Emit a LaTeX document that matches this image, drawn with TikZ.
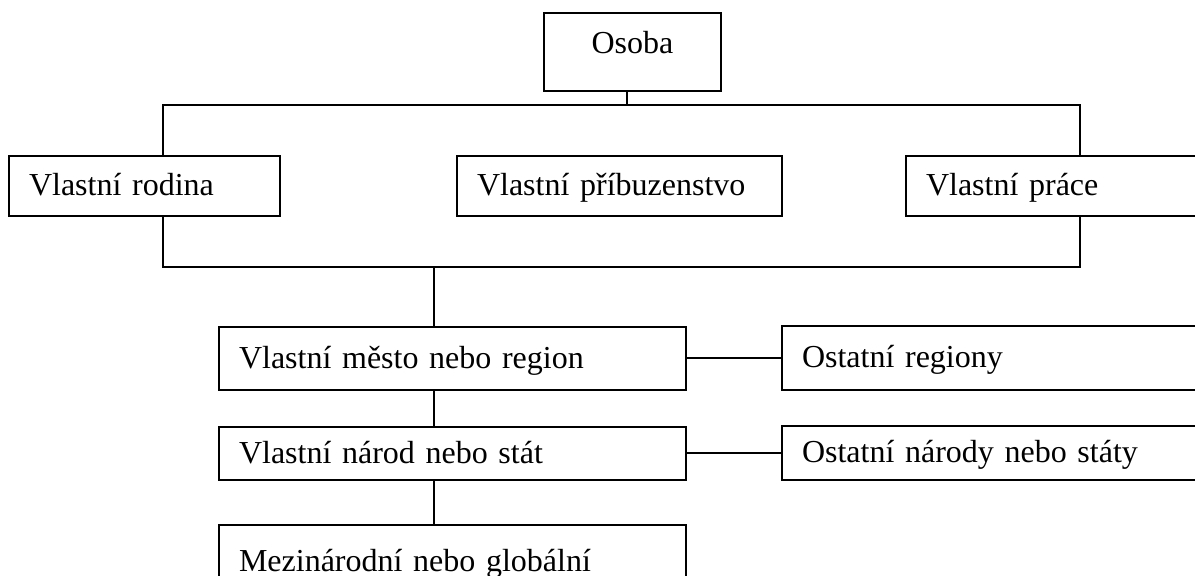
\documentclass[tikz,border=0pt]{standalone}
\usepackage{fontspec}
\setmainfont{Liberation Serif}
\usetikzlibrary{calc}

\tikzset{
  box/.style={draw, rectangle, line width=1pt, outer sep=0pt, anchor=north west,
    inner xsep=10pt, align=left, text height=12pt, text depth=2pt,
    font=\fontsize{16pt}{19pt}\selectfont},
  link/.style={line width=1pt}
}

\begin{document}
\begin{tikzpicture}[x=0.5pt, y=-0.5pt]

    % 1. Frame of the picture (pixel coordinates, y downwards)
    \useasboundingbox (0,0) rectangle (1195,576);
    \clip (0,0) rectangle (1195,576);

    % 2. Top box
    \node[box, align=center, text width=68.5pt, minimum height=39pt,
          text height=11pt, text depth=9pt] (osoba) at (544,13) {Osoba};

    % 3. Second row
    \node[box, text width=115.5pt, minimum height=30pt] (rodina) at (9,156) {Vlastní rodina};
    \node[box, text width=142.5pt, minimum height=30pt] (pribuz) at (457,156) {Vlastní příbuzenstvo};
    \node[box, text width=134.5pt, minimum height=30pt] (prace) at (906,156) {Vlastní práce};

    % 4. Column of own levels
    \node[box, text width=213.5pt, minimum height=31.5pt] (mesto) at (219,327) {Vlastní město nebo region};
    \node[box, text width=213.5pt, minimum height=26.5pt] (narod) at (219,427) {Vlastní národ nebo stát};
    \node[box, text width=213.5pt, minimum height=37pt] (global) at (219,525) {Mezinárodní nebo globální};

    % 5. Other levels on the right
    \node[box, text width=196.5pt, minimum height=32pt] (ostreg) at (782,326) {Ostatní regiony};
    \node[box, text width=196.5pt, minimum height=27pt] (ostnar) at (782,426) {Ostatní národy nebo státy};

    % 6. Bus points
    \coordinate (top) at (627,105);
    \coordinate (busA) at (163,105);
    \coordinate (busB) at (1080,105);
    \coordinate (busC) at (163,267);
    \coordinate (busD) at (1080,267);
    \coordinate (stem) at (434,267);

    % 7. Connectors
    \draw[link] (top |- osoba.south) -- (top);
    \draw[link] (busA |- rodina.north) -- (busA) -- (busB) -- (busB |- prace.north);
    \draw[link] (busC |- rodina.south) -- (busC) -- (busD) -- (busD |- prace.south);
    \draw[link] (stem) -- (stem |- mesto.north);
    \draw[link] (stem |- mesto.south) -- (stem |- narod.north);
    \draw[link] (stem |- narod.south) -- (stem |- global.north);
    \draw[link] (mesto.east) -- (mesto.east -| ostreg.west);
    \draw[link] (narod.east) -- (narod.east -| ostnar.west);

\end{tikzpicture}
\end{document}
